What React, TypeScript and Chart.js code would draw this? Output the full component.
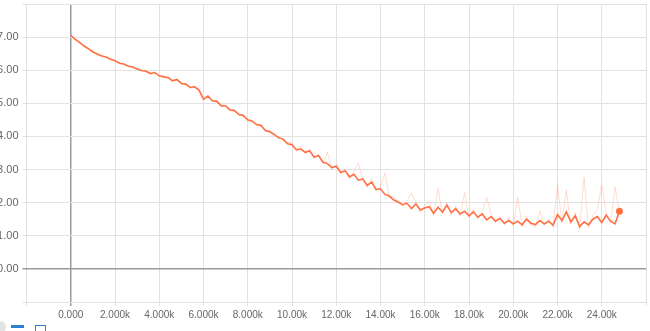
import React, { useEffect, useRef } from "react";
import { Chart, registerables } from "chart.js";

Chart.register(...registerables);

const steps: number[] = [
  0, 200, 400, 600, 800, 1000, 1200, 1400, 1600, 1800, 2000, 2200, 2400, 2600, 2800, 3000, 3200, 3400, 3600, 3800,
  4000, 4200, 4400, 4600, 4800, 5000, 5200, 5400, 5600, 5800, 6000, 6200, 6400, 6600, 6800, 7000, 7200, 7400, 7600, 7800,
  8000, 8200, 8400, 8600, 8800, 9000, 9200, 9400, 9600, 9800, 10000, 10200, 10400, 10600, 10800, 11000, 11200, 11400, 11600, 11800,
  12000, 12200, 12400, 12600, 12800, 13000, 13200, 13400, 13600, 13800, 14000, 14200, 14400, 14600, 14800, 15000, 15200, 15400, 15600, 15800,
  16000, 16200, 16400, 16600, 16800, 17000, 17200, 17400, 17600, 17800, 18000, 18200, 18400, 18600, 18800, 19000, 19200, 19400, 19600, 19800,
  20000, 20200, 20400, 20600, 20800, 21000, 21200, 21400, 21600, 21800, 22000, 22200, 22400, 22600, 22800, 23000, 23200, 23400, 23600, 23800,
  24000, 24200, 24400, 24600, 24800,
];

const smoothed: number[] = [
  7.05, 6.93, 6.84, 6.73, 6.65, 6.55, 6.49, 6.43, 6.4, 6.33, 6.29, 6.21, 6.19, 6.12, 6.1, 6.04, 5.99, 5.97, 5.9, 5.93,
  5.83, 5.8, 5.78, 5.68, 5.72, 5.6, 5.58, 5.48, 5.5, 5.4, 5.12, 5.22, 5.08, 5.06, 4.93, 4.92, 4.8, 4.78, 4.66, 4.63,
  4.5, 4.46, 4.36, 4.33, 4.18, 4.14, 4.06, 3.96, 3.92, 3.78, 3.75, 3.6, 3.62, 3.52, 3.56, 3.38, 3.42, 3.22, 3.18, 3.06,
  3.1, 2.92, 2.96, 2.78, 2.86, 2.68, 2.72, 2.52, 2.62, 2.4, 2.42, 2.25, 2.2, 2.08, 2.02, 1.94, 1.98, 1.82, 1.96, 1.78,
  1.84, 1.88, 1.68, 1.86, 1.72, 1.92, 1.7, 1.82, 1.66, 1.74, 1.6, 1.72, 1.56, 1.66, 1.48, 1.58, 1.44, 1.52, 1.38, 1.46,
  1.36, 1.44, 1.33, 1.5, 1.38, 1.34, 1.46, 1.36, 1.44, 1.32, 1.64, 1.46, 1.72, 1.42, 1.6, 1.28, 1.42, 1.33, 1.5, 1.58,
  1.4, 1.62, 1.44, 1.36, 1.74,
];

const raw: number[] = [
  7.05, 6.95, 6.82, 6.75, 6.63, 6.57, 6.47, 6.45, 6.38, 6.35, 6.27, 6.23, 6.17, 6.14, 6.08, 6.06, 5.97, 5.99, 5.88, 5.95,
  5.81, 5.83, 5.75, 5.7, 5.7, 5.57, 5.61, 5.45, 5.53, 5.36, 5.1, 5.25, 5.05, 5.09, 4.9, 4.95, 4.77, 4.81, 4.63, 4.67,
  4.47, 4.5, 4.33, 4.37, 4.15, 4.18, 4.02, 3.99, 3.88, 3.82, 3.8, 3.55, 3.7, 3.48, 3.62, 3.33, 3.48, 3.18, 3.52, 3.0,
  3.15, 2.86, 3.02, 2.72, 2.95, 3.2, 2.68, 2.46, 2.72, 2.35, 2.5, 2.9, 2.15, 2.2, 1.98, 1.9, 2.05, 2.3, 2.0, 1.72,
  1.92, 2.05, 1.62, 2.43, 1.66, 2.0, 1.64, 1.9, 1.6, 2.3, 1.55, 1.8, 1.5, 1.72, 2.17, 1.64, 1.4, 1.58, 1.32, 1.55,
  1.3, 2.17, 1.28, 1.6, 1.32, 1.28, 1.75, 1.3, 1.5, 1.26, 2.53, 1.4, 2.38, 1.35, 1.7, 1.2, 2.77, 1.25, 1.62, 1.8,
  2.53, 1.7, 1.38, 2.47, 1.72,
];

const yTicks: number[] = [-1, 0, 1, 2, 3, 4, 5, 6, 7, 8];
const xTicks: number[] = [-2000, 0, 2000, 4000, 6000, 8000, 10000, 12000, 14000, 16000, 18000, 20000, 22000, 24000, 26000];

function fmtX(v: number): string {
  if (v === 0) return "0.000";
  const k = v / 1000;
  return k < 10 ? k.toFixed(3) + "k" : k.toFixed(2) + "k";
}

const FONT = "Helvetica, 'Liberation Sans', Arial, sans-serif";

export default function App() {
  const ref = useRef<HTMLCanvasElement | null>(null);
  useEffect(() => {
    document.body.style.margin = "0";
    const canvas = ref.current!;
    const last = steps.length - 1;
    const gridColor = (ctx: any) => (ctx.tick && ctx.tick.value === 0 ? "#9a9a9a" : "#e2e2e2");
    const gridWidth = (ctx: any) => (ctx.tick && ctx.tick.value === 0 ? 1.5 : 1);
    const chart = new Chart(canvas, {
      type: "line",
      data: {
        datasets: [
          {
            data: steps.map((s, i) => ({ x: s, y: smoothed[i] })),
            borderColor: "#ff7043",
            borderWidth: 1.6,
            pointRadius: (ctx: any) => (ctx.dataIndex === last ? 3.5 : 0),
            pointBackgroundColor: "#ff7043",
            pointBorderWidth: 0,
            tension: 0,
          },
          {
            data: steps.map((s, i) => ({ x: s, y: raw[i] })),
            borderColor: "rgba(255,112,67,0.24)",
            borderWidth: 1,
            pointRadius: 0,
            tension: 0,
          },
        ],
      },
      options: {
        animation: false,
        responsive: false,
        layout: { padding: { top: 4, right: 0, left: 0, bottom: 0 } },
        plugins: { legend: { display: false }, tooltip: { enabled: false } },
        scales: {
          x: {
            type: "linear",
            min: -2000,
            max: 26000,
            afterBuildTicks: (scale: any) => {
              scale.ticks = xTicks.map((v) => ({ value: v }));
            },
            afterFit: (scale: any) => {
              scale.height = 29;
              scale.paddingLeft = 0;
              scale.paddingRight = 0;
            },
            ticks: {
              autoSkip: false,
              maxRotation: 0,
              padding: 3,
              color: "#666",
              font: { family: FONT, size: 10 },
              callback: (v: any) => (v === -2000 || v === 26000 ? "" : fmtX(Number(v))),
            },
            grid: { color: gridColor, lineWidth: gridWidth, tickLength: 4 },
            border: { display: false },
          },
          y: {
            min: -1,
            max: 8,
            afterBuildTicks: (scale: any) => {
              scale.ticks = yTicks.map((v) => ({ value: v }));
            },
            afterFit: (scale: any) => {
              scale.width = 26.5;
              scale.paddingTop = 0;
              scale.paddingBottom = 0;
            },
            ticks: {
              padding: 4,
              color: "#666",
              font: { family: FONT, size: 11 },
              callback: (v: any) => (v === -1 || v === 8 ? "" : Number(v).toFixed(2)),
            },
            grid: { color: gridColor, lineWidth: gridWidth, tickLength: 4 },
            border: { display: false },
          },
        },
      },
    } as any);
    return () => chart.destroy();
  }, []);
  return (
    <div style={{ position: "relative", width: 650, height: 331, overflow: "hidden", background: "#fff" }}>
      <canvas ref={ref} width={650} height={331} style={{ display: "block" }} />
      <div style={{ position: "absolute", left: -6, top: 321, width: 12, height: 12, borderRadius: 6, background: "#e4e4e4" }} />
      <div style={{ position: "absolute", left: 11, top: 325, width: 13, height: 3, background: "#2f7fd3" }} />
      <div style={{ position: "absolute", left: 35, top: 325, width: 11, height: 8, border: "1.5px solid #2f7fd3", boxSizing: "border-box" }} />
    </div>
  );
}
